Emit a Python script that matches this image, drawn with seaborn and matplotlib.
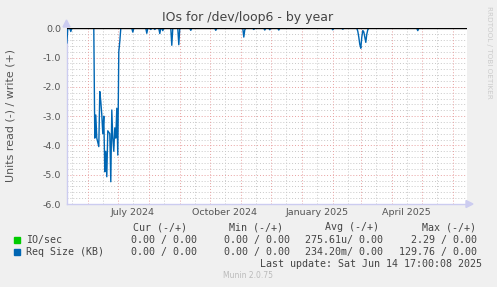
import matplotlib
matplotlib.use("Agg")
import matplotlib.pyplot as plt
import seaborn as sns
import pandas as pd

# ---------------- data ----------------
title = "IOs for /dev/loop6 - by year"
ylabel = "Units read (-) / write (+)"
ytick_values = [0.0, -1.0, -2.0, -3.0, -4.0, -5.0, -6.0]
xtick_labels = ["July 2024", "October 2024", "January 2025", "April 2025"]
xtick_dates = ["2024-07-16", "2024-10-16", "2025-01-16", "2025-04-16"]
range_start = "2024-05-10 17:00"
range_end = "2025-06-14 17:00"

# Req Size (KB), read side (drawn negative); days not listed are 0
read_dates = [
    "2024-05-11", "2024-05-15",
    "2024-06-08", "2024-06-09", "2024-06-10", "2024-06-11", "2024-06-12",
    "2024-06-13", "2024-06-14", "2024-06-15", "2024-06-16", "2024-06-17",
    "2024-06-18", "2024-06-19", "2024-06-20", "2024-06-21", "2024-06-22",
    "2024-06-23", "2024-06-24", "2024-06-25", "2024-06-26", "2024-06-27",
    "2024-06-28", "2024-06-29", "2024-06-30", "2024-07-01", "2024-07-02",
    "2024-07-03",
    "2024-07-16", "2024-07-30", "2024-08-03", "2024-08-07", "2024-08-12",
    "2024-08-15", "2024-08-24", "2024-08-31", "2024-09-12", "2024-10-07",
    "2024-11-04", "2024-11-05", "2024-11-14", "2024-11-25", "2024-11-30",
    "2024-12-09", "2025-02-01", "2025-02-11",
    "2025-02-26", "2025-02-27", "2025-02-28", "2025-03-01", "2025-03-02",
    "2025-03-03", "2025-03-04", "2025-03-05", "2025-03-06", "2025-03-07",
    "2025-03-08", "2025-04-27",
]
read_values = [
    -0.51, -0.11,
    -3.75, -2.96, -3.75, -3.90, -4.04,
    -2.16, -2.50, -2.95, -3.60, -3.00,
    -4.90, -4.20, -5.07, -3.50, -3.55,
    -3.60, -5.24, -2.79, -3.75, -4.20,
    -3.40, -3.75, -2.73, -4.33, -0.80,
    -0.45,
    -0.13, -0.17, -0.04, -0.04, -0.18,
    -0.08, -0.58, -0.56, -0.07, -0.07,
    -0.30, -0.05, -0.04, -0.06, -0.05,
    -0.06, -0.05, -0.03,
    -0.10, -0.30, -0.55, -0.68, -0.30,
    -0.08, -0.12, -0.30, -0.48, -0.20,
    -0.05, -0.08,
]

legend_header = ["Cur (-/+)", "Min (-/+)", "Avg (-/+)", "Max (-/+)"]
legend_names = ["IO/sec", "Req Size (KB)"]
legend_colors = ["#00CC00", "#0066B3"]
legend_cur = ["0.00 / 0.00", "0.00 / 0.00"]
legend_min = ["0.00 / 0.00", "0.00 / 0.00"]
legend_avg = ["275.61u/ 0.00", "234.20m/ 0.00"]
legend_max = ["2.29 / 0.00", "129.76 / 0.00"]
last_update = "Last update: Sat Jun 14 17:00:08 2025"
footer = "Munin 2.0.75"
side_text = "RRDTOOL / TOBI OETIKER"

# ---------------- build table ----------------
days = pd.date_range("2024-05-10", "2025-06-14", freq="D")
series = pd.Series(0.0, index=days)
series.loc[pd.to_datetime(read_dates)] = read_values
df = pd.DataFrame({"date": series.index, "value": series.values})

# ---------------- figure ----------------
W, H = 497, 287
fig = plt.figure(figsize=(W / 100, H / 100), dpi=100, facecolor="#F0F0F0")
px_l, px_r, px_t, px_b = 66.5, 466.5, 28.3, 204.0
ax = fig.add_axes([px_l / W, 1 - px_b / H, (px_r - px_l) / W, (px_b - px_t) / H])
ax.set_facecolor("white")

x0, x1 = pd.Timestamp(range_start), pd.Timestamp(range_end)

# grid
for m in pd.date_range("2024-05-01", "2025-07-01", freq="MS"):
    mid = m + pd.Timedelta(days=15)
    if x0 < mid < x1:
        ax.axvline(mid, color="#C8C8C8", lw=0.7, ls=(0, (1, 2)), zorder=1)
    if x0 < m < x1:
        ax.axvline(m, color="#E8A0A0", lw=0.7, ls=(0, (1, 2)), zorder=1.5)
for k in range(31):
    yv = -0.2 * k
    if k % 5 == 0:
        ax.axhline(yv, color="#E8A0A0", lw=0.7, ls=(0, (1, 2)), zorder=1.5)
    else:
        ax.axhline(yv, color="#C8C8C8", lw=0.7, ls=(0, (1, 2)), zorder=1)

sns.lineplot(data=df, x="date", y="value", ax=ax, color="#0066B3",
             linewidth=1.0, zorder=3)
ax.axhline(0.0, color="black", lw=1.0, zorder=4)

ax.set_xlim(x0, x1)
ax.set_ylim(-6.0, 0.0)
ax.set_yticks(ytick_values)
ax.set_yticklabels([f"{v:.1f}" for v in ytick_values])
ax.set_xticks(pd.to_datetime(xtick_dates))
ax.set_xticklabels(xtick_labels)
ax.tick_params(axis="both", length=0, labelsize=6.8, colors="#555555", pad=4)
ax.tick_params(axis="x", pad=3)
ax.set_xlabel("")
ax.set_ylabel("")
for s in ["top", "right"]:
    ax.spines[s].set_visible(False)
for s in ["left", "bottom"]:
    ax.spines[s].set_color("#CCCCF0")
    ax.spines[s].set_linewidth(1.0)

# axis arrows
fig.patches.append(plt.Polygon([[px_l / W, 1 - 20 / H], [(px_l - 3.5) / W, 1 - 27 / H],
                                [(px_l + 3.5) / W, 1 - 27 / H]], closed=True,
                               transform=fig.transFigure, color="#CCCCF0"))
fig.patches.append(plt.Polygon([[473 / W, 1 - px_b / H], [466 / W, 1 - (px_b - 3.5) / H],
                                [466 / W, 1 - (px_b + 3.5) / H]], closed=True,
                               transform=fig.transFigure, color="#CCCCF0"))

def fy(y):
    return 1 - y / H

fig.text(248 / W, fy(18), title, ha="center", va="center", fontsize=9.0, color="#444444")
fig.text(11 / W, fy(115), ylabel, ha="center", va="center", rotation=90,
         fontsize=7.9, color="#555555")
fig.text(489 / W, fy(6), side_text, ha="center", va="top", rotation=270,
         fontsize=5.2, color="#CCCCCC")

mono = "DejaVu Sans Mono"
fs = 7.2
tc = "#444444"
for txt, xr in zip(legend_header, [187, 283, 379, 476]):
    fig.text(xr / W, fy(227), txt, ha="right", va="center", family=mono, fontsize=fs, color=tc)
for i, yrow in enumerate([240, 252]):
    fig.patches.append(plt.Rectangle((14 / W, fy(yrow + 3)), 6 / W, 6 / H,
                                     transform=fig.transFigure, color=legend_colors[i]))
    fig.text(26.5 / W, fy(yrow), legend_names[i], ha="left", va="center", family=mono,
             fontsize=fs, color=tc)
    for col, xr in zip([legend_cur, legend_min, legend_avg, legend_max], [197, 290, 383, 477]):
        fig.text(xr / W, fy(yrow), col[i], ha="right", va="center", family=mono,
                 fontsize=fs, color=tc)
fig.text(482.5 / W, fy(264), last_update, ha="right", va="center", family=mono,
         fontsize=fs, color=tc)
fig.text(248 / W, fy(276), footer, ha="center", va="center", fontsize=5.5, color="#BBBBBB")

fig.savefig("out.png", dpi=100, facecolor=fig.get_facecolor())
